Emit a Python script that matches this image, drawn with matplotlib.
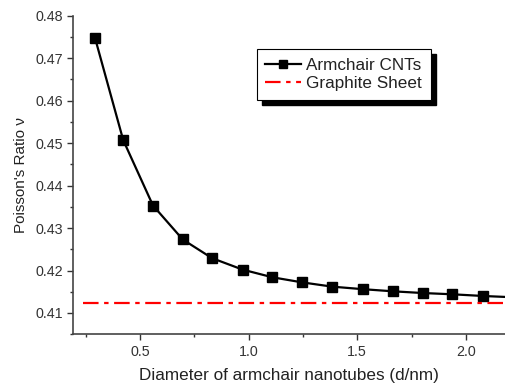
import matplotlib.pyplot as plt
from matplotlib.ticker import MultipleLocator
from matplotlib.patches import Rectangle

plt.rcParams['font.family'] = ['Liberation Sans', 'DejaVu Sans']

# armchair CNT diameters (nm) and Poisson's ratio
diameter = [0.293, 0.423, 0.560, 0.697, 0.832, 0.973, 1.110, 1.247, 1.385,
            1.527, 1.665, 1.801, 1.938, 2.080, 2.218]
poisson = [0.4748, 0.4507, 0.4353, 0.4273, 0.4229, 0.4202, 0.4184, 0.4172,
           0.4162, 0.4156, 0.4151, 0.4147, 0.4144, 0.4140, 0.4137]
graphite_x = [0.24, 2.30]
graphite_nu = 0.4123

fig = plt.figure(figsize=(5.05, 3.9), dpi=100)
ax = fig.add_axes([0.145, 0.143, 0.855, 0.817])

ax.plot(diameter, poisson, color='black', lw=1.6, marker='s', ms=6.5,
        label='Armchair CNTs')
ax.plot(graphite_x, [graphite_nu, graphite_nu], color='red', lw=1.6,
        dashes=(7, 2.5, 2, 2.5), label='Graphite Sheet')

ax.set_xlim(0.193, 2.18)
ax.set_ylim(0.405, 0.48)
ax.xaxis.set_major_locator(MultipleLocator(0.5))
ax.xaxis.set_minor_locator(MultipleLocator(0.25))
ax.yaxis.set_major_locator(MultipleLocator(0.01))
ax.yaxis.set_minor_locator(MultipleLocator(0.005))
ax.tick_params(which='major', length=4, width=1, labelsize=10.3, colors='#333333')
ax.tick_params(which='minor', length=2.5, width=1, colors='#333333')
ax.xaxis.set_major_formatter(plt.FuncFormatter(lambda v, p: f'{v:.1f}'))
ax.yaxis.set_major_formatter(plt.FuncFormatter(lambda v, p: f'{v:.2f}'))

for s in ['top', 'right']:
    ax.spines[s].set_visible(False)
for s in ['left', 'bottom']:
    ax.spines[s].set_color('#444444')
    ax.spines[s].set_linewidth(1.2)

ax.set_xlabel('Diameter of armchair nanotubes (d/nm)', fontsize=12.3, labelpad=7,
              color='#222222')
ax.set_ylabel("Poisson's Ratio ν", fontsize=11, labelpad=5, color='#222222')

leg = ax.legend(loc='upper left', bbox_to_anchor=(0.425, 0.895), fontsize=12.3,
                frameon=True, fancybox=False, edgecolor='black', framealpha=1,
                handlelength=2.1, borderpad=0.5, labelspacing=0.2,
                handletextpad=0.3, borderaxespad=0, markerscale=0.8)
leg.get_frame().set_linewidth(0.8)
for t in leg.get_texts():
    t.set_color('#222222')

# black drop shadow behind the legend box
fig.canvas.draw()
bb = leg.get_window_extent()
shadow = Rectangle((bb.x0 + 5, bb.y0 - 5), bb.width, bb.height,
                   transform=None, color='black', zorder=4.9, clip_on=False)
ax.add_artist(shadow)

fig.savefig('out.png', dpi=100)
